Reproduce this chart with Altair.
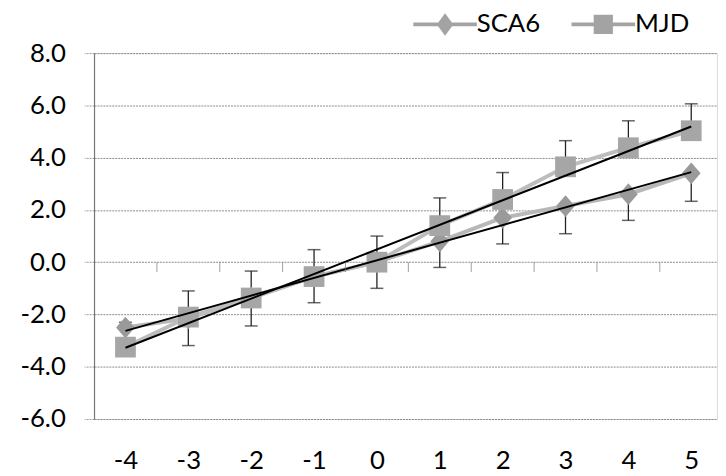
import altair as alt
import pandas as pd

# ---- data ----
x_vals = [-4, -3, -2, -1, 0, 1, 2, 3, 4, 5]
sca6 = [-2.5, -2.15, -1.35, -0.55, 0.0, 0.8, 1.7, 2.15, 2.6, 3.4]
mjd = [-3.25, -2.1, -1.37, -0.55, 0.0, 1.4, 2.4, 3.65, 4.38, 5.03]
mjd_err_plus = [0.95, 1.0, 1.03, 1.03, 1.0, 1.06, 1.03, 1.0, 1.03, 1.03]
sca6_err_minus = [1.0, 1.04, 1.09, 1.0, 1.0, 1.0, 1.0, 1.06, 1.0, 1.07]
series_names = ["SCA6", "MJD"]
y_ticks = [-6, -4, -2, 0, 2, 4, 6, 8]
category_edges = [-3.5, -2.5, -1.5, -0.5, 0.5, 1.5, 2.5, 3.5, 4.5]

rows = []
for i, x in enumerate(x_vals):
    rows.append({"x": x, "series": "SCA6", "value": sca6[i],
                 "err_end": sca6[i] - sca6_err_minus[i]})
    rows.append({"x": x, "series": "MJD", "value": mjd[i],
                 "err_end": mjd[i] + mjd_err_plus[i]})
df = pd.DataFrame(rows)
edges_df = pd.DataFrame({"edge": category_edges, "zero": [0] * len(category_edges)})

FONT = "Lato"
xscale = alt.Scale(domain=[-4.5, 5.41], nice=False, zero=False)
yscale = alt.Scale(domain=[-6, 8], nice=False, zero=False)

x_enc = alt.X("x:Q", scale=xscale, axis=alt.Axis(
    values=x_vals, title=None, grid=False, domain=False, ticks=False, tickSize=0,
    labelFont=FONT, labelFontSize=26, labelColor="#000", labelPadding=29,
    labelExpr="datum.value < 0 ? '-' + abs(datum.value) : '' + datum.value"))
y_axis = alt.Axis(
    values=y_ticks, title=None, grid=True, gridColor="#8a8a8a", gridDash=[2, 1],
    gridWidth=1, domain=True, domainColor="#777", domainWidth=1.2,
    ticks=True, tickSize=10, tickColor="#999", tickDash=[2, 1],
    labelFont=FONT, labelFontSize=26, labelColor="#000", labelPadding=19,
    labelExpr="datum.value < 0 ? '-' + format(-datum.value, '.1f') : format(datum.value, '.1f')")

base = alt.Chart(df)

err_rule = base.mark_rule(color="#222", strokeWidth=1.3).encode(
    x=x_enc, y=alt.Y("value:Q", scale=yscale, axis=y_axis), y2="err_end:Q")
err_cap = base.mark_tick(orient="horizontal", size=13, thickness=1.5, color="#222").encode(
    x="x:Q", y="err_end:Q")

sca6_line = base.transform_filter("datum.series == 'SCA6'").mark_line(
    color="#b8b8b8", strokeWidth=4).encode(x="x:Q", y="value:Q")
mjd_line = base.transform_filter("datum.series == 'MJD'").mark_line(
    color="#bdbdbd", strokeWidth=4).encode(x="x:Q", y="value:Q")

diamond_path = "M0,-1L0.86,0L0,1L-0.86,0Z"
sca6_pts = base.transform_filter("datum.series == 'SCA6'").mark_point(
    shape=diamond_path, filled=True, size=484, color="#9a9a9a", opacity=1).encode(
    x="x:Q", y="value:Q")
mjd_pts = base.transform_filter("datum.series == 'MJD'").mark_point(
    shape="square", filled=True, size=440, color="#a6a6a6", opacity=1).encode(
    x="x:Q", y="value:Q")

trend = base.transform_regression("x", "value", groupby=["series"], extent=[-4, 5]).mark_line(
    color="#000", strokeWidth=2).encode(x="x:Q", y="value:Q", detail="series:N")

edge_ticks = alt.Chart(edges_df).mark_tick(
    orient="vertical", size=10, thickness=1, color="#777", yOffset=5).encode(
    x="edge:Q", y="zero:Q")

leg_diamond = ("M-1.19,-0.07L1.19,-0.07L1.19,0.07L-1.19,0.07Z "
               "M0,-0.42L0.31,0L0,0.42L-0.31,0Z")
leg_square = ("M-1.19,-0.07L1.19,-0.07L1.19,0.07L-1.19,0.07Z "
              "M-0.36,-0.36L0.36,-0.36L0.36,0.36L-0.36,0.36Z")
legend_layer = base.mark_point(filled=True, opacity=0, size=10, color="#a3a3a3").encode(
    x="x:Q", y="value:Q",
    shape=alt.Shape("series:N",
                    scale=alt.Scale(domain=series_names, range=[leg_diamond, leg_square]),
                    legend=alt.Legend(
                        orient="none", legendX=328, legendY=-56, direction="horizontal",
                        title=None, padding=0, offset=0,
                        symbolSize=2916, symbolOpacity=1, symbolFillColor="#a3a3a3",
                        symbolStrokeWidth=0, labelOffset=5, columnPadding=30,
                        labelFont=FONT, labelFontSize=26, labelColor="#000", labelLimit=300)))

chart = alt.layer(
    err_rule, err_cap, sca6_line, sca6_pts, mjd_line, mjd_pts, trend, edge_ticks, legend_layer
).properties(
    width=630, height=370,
    autosize=alt.AutoSizeParams(type="none"),
    padding={"left": 87, "top": 43, "right": 1, "bottom": 54},
).configure_view(stroke=None).configure(background="white")

chart.save("out.html", embed_options={"renderer": "svg", "actions": False})
